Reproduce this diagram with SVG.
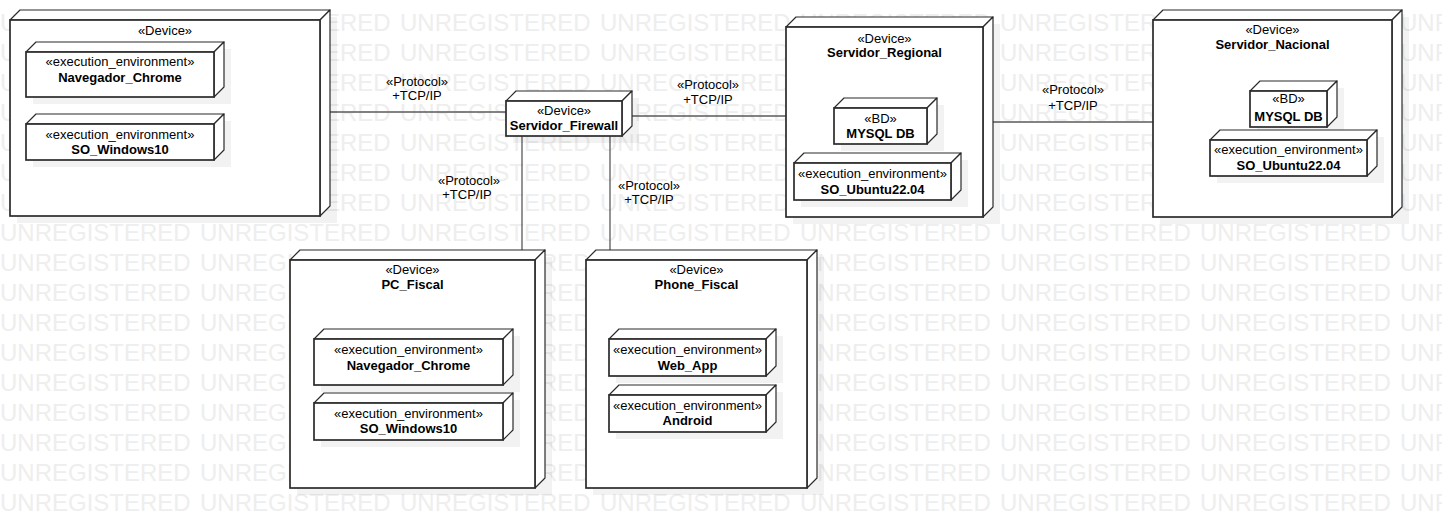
<svg xmlns="http://www.w3.org/2000/svg" width="1442" height="530" viewBox="0 0 1442 530">
<style>
.wm{font-family:"Liberation Sans",Arial,sans-serif;font-size:24px;fill:#eeeeee;word-spacing:2.65px}
.t{font-family:"Liberation Sans",Arial,sans-serif;font-size:13px;fill:#000;text-anchor:middle}
.b{font-weight:bold}
.front{fill:#fff;stroke:#2b2b2b;stroke-width:1.7}
.face{fill:#fff;stroke:#2b2b2b;stroke-width:1.2;stroke-linejoin:round}
.sh{fill:#000;opacity:0.05}
.cn{stroke:#5a5a5a;stroke-width:1.3;fill:none}
</style>
<defs>
<g id="wmrow"><text class="wm" x="0" y="0">UNREGISTERED UNREGISTERED UNREGISTERED UNREGISTERED UNREGISTERED UNREGISTERED UNREGISTERED UNREGISTERED</text></g>
</defs>
<rect width="1442" height="530" fill="#fff"/>
<g id="watermark">
<use href="#wmrow" y="30.7"/><use href="#wmrow" y="60.7"/><use href="#wmrow" y="90.7"/><use href="#wmrow" y="120.7"/>
<use href="#wmrow" y="150.7"/><use href="#wmrow" y="180.7"/><use href="#wmrow" y="210.7"/><use href="#wmrow" y="240.7"/>
<use href="#wmrow" y="270.7"/><use href="#wmrow" y="300.7"/><use href="#wmrow" y="330.7"/><use href="#wmrow" y="360.7"/>
<use href="#wmrow" y="390.7"/><use href="#wmrow" y="420.7"/><use href="#wmrow" y="450.7"/><use href="#wmrow" y="480.7"/>
<use href="#wmrow" y="510.7"/>
</g>

<g id="connectors">
<line class="cn" x1="330" y1="112" x2="506" y2="112"/>
<text class="t" x="417" y="86">«Protocol»</text><text class="t" x="417" y="99.5">+TCP/IP</text>
<line class="cn" x1="632" y1="116" x2="786" y2="116"/>
<text class="t" x="708" y="88.5">«Protocol»</text><text class="t" x="708" y="103.5">+TCP/IP</text>
<line class="cn" x1="522" y1="136" x2="522" y2="250"/>
<text class="t" x="469" y="185">«Protocol»</text><text class="t" x="467" y="198.5">+TCP/IP</text>
<line class="cn" x1="610" y1="136" x2="610" y2="250"/>
<text class="t" x="649" y="190">«Protocol»</text><text class="t" x="649" y="203.5">+TCP/IP</text>
<line class="cn" x1="993" y1="122" x2="1153" y2="122"/>
<text class="t" x="1073" y="94.3">«Protocol»</text><text class="t" x="1073" y="110">+TCP/IP</text>
</g>

<g id="node-pc-left">
<rect class="sh" x="17" y="17" width="320" height="206"/>
<polygon class="face" points="10,20 20,10 330,10 320,20"/>
<polygon class="face" points="320,20 330,10 330,206 320,216"/>
<rect class="front" x="10" y="20" width="310" height="196"/>
<text class="t" x="165" y="35">«Device»</text>
<g id="node-pc-left-chrome">
<rect class="sh" x="33" y="49" width="198" height="55"/>
<polygon class="face" points="26,52 36,42 224,42 214,52"/>
<polygon class="face" points="214,52 224,42 224,87 214,97"/>
<rect class="front" x="26" y="52" width="188" height="45"/>
<text class="t" x="120" y="66">«execution_environment»</text>
<text class="t b" x="120" y="82">Navegador_Chrome</text>
</g>
<g id="node-pc-left-windows">
<rect class="sh" x="33" y="121" width="198" height="46"/>
<polygon class="face" points="26,124 36,114 224,114 214,124"/>
<polygon class="face" points="214,124 224,114 224,150 214,160"/>
<rect class="front" x="26" y="124" width="188" height="36"/>
<text class="t" x="120" y="138.5">«execution_environment»</text>
<text class="t b" x="120" y="154">SO_Windows10</text>
</g>
</g>

<g id="node-firewall">
<rect class="sh" x="513" y="98" width="126" height="45"/>
<polygon class="face" points="506,101 516,91 632,91 622,101"/>
<polygon class="face" points="622,101 632,91 632,126 622,136"/>
<rect class="front" x="506" y="101" width="116" height="35"/>
<text class="t" x="564" y="115">«Device»</text>
<text class="t b" x="564" y="129.5">Servidor_Firewall</text>
</g>

<g id="node-regional">
<rect class="sh" x="793" y="24" width="207" height="200"/>
<polygon class="face" points="786,27 796,17 993,17 983,27"/>
<polygon class="face" points="983,27 993,17 993,207 983,217"/>
<rect class="front" x="786" y="27" width="197" height="190"/>
<text class="t" x="884.5" y="42.7">«Device»</text>
<text class="t b" x="884.5" y="57.3">Servidor_Regional</text>
<g id="node-regional-db">
<rect class="sh" x="841" y="105" width="103" height="46"/>
<polygon class="face" points="834,108 844,98 937,98 927,108"/>
<polygon class="face" points="927,108 937,98 937,134 927,144"/>
<rect class="front" x="834" y="108" width="93" height="36"/>
<text class="t" x="880.5" y="122.7">«BD»</text>
<text class="t b" x="880.5" y="137.7">MYSQL DB</text>
</g>
<g id="node-regional-os">
<rect class="sh" x="801" y="160" width="167" height="47"/>
<polygon class="face" points="794,163 804,153 961,153 951,163"/>
<polygon class="face" points="951,163 961,153 961,190 951,200"/>
<rect class="front" x="794" y="163" width="157" height="37"/>
<text class="t" x="872.5" y="177.7">«execution_environment»</text>
<text class="t b" x="872.5" y="194.3">SO_Ubuntu22.04</text>
</g>
</g>

<g id="node-nacional">
<rect class="sh" x="1160" y="17" width="249" height="207"/>
<polygon class="face" points="1153,20 1163,10 1402,10 1392,20"/>
<polygon class="face" points="1392,20 1402,10 1402,207 1392,217"/>
<rect class="front" x="1153" y="20" width="239" height="197"/>
<text class="t" x="1272.5" y="34.3">«Device»</text>
<text class="t b" x="1272.5" y="49.3">Servidor_Nacional</text>
<g id="node-nacional-db">
<rect class="sh" x="1257" y="88" width="87" height="46"/>
<polygon class="face" points="1250,91 1260,81 1337,81 1327,91"/>
<polygon class="face" points="1327,91 1337,81 1337,117 1327,127"/>
<rect class="front" x="1250" y="91" width="77" height="36"/>
<text class="t" x="1288.5" y="103.3">«BD»</text>
<text class="t b" x="1288.5" y="120.7">MYSQL DB</text>
</g>
<g id="node-nacional-os">
<rect class="sh" x="1217" y="137" width="167" height="46"/>
<polygon class="face" points="1210,140 1220,130 1377,130 1367,140"/>
<polygon class="face" points="1367,140 1377,130 1377,166 1367,176"/>
<rect class="front" x="1210" y="140" width="157" height="36"/>
<text class="t" x="1288.5" y="154.3">«execution_environment»</text>
<text class="t b" x="1288.5" y="170">SO_Ubuntu22.04</text>
</g>
</g>

<g id="node-pc-fiscal">
<rect class="sh" x="297" y="257" width="255" height="238"/>
<polygon class="face" points="290,260 300,250 545,250 535,260"/>
<polygon class="face" points="535,260 545,250 545,478 535,488"/>
<rect class="front" x="290" y="260" width="245" height="228"/>
<text class="t" x="412.5" y="274.3">«Device»</text>
<text class="t b" x="412.5" y="289.3">PC_Fiscal</text>
<g id="node-pc-fiscal-chrome">
<rect class="sh" x="321" y="336" width="199" height="56"/>
<polygon class="face" points="314,339 324,329 513,329 503,339"/>
<polygon class="face" points="503,339 513,329 513,375 503,385"/>
<rect class="front" x="314" y="339" width="189" height="46"/>
<text class="t" x="408.5" y="354">«execution_environment»</text>
<text class="t b" x="408.5" y="370">Navegador_Chrome</text>
</g>
<g id="node-pc-fiscal-windows">
<rect class="sh" x="321" y="400" width="199" height="47"/>
<polygon class="face" points="314,403 324,393 513,393 503,403"/>
<polygon class="face" points="503,403 513,393 513,430 503,440"/>
<rect class="front" x="314" y="403" width="189" height="37"/>
<text class="t" x="408.5" y="418.3">«execution_environment»</text>
<text class="t b" x="408.5" y="433.3">SO_Windows10</text>
</g>
</g>

<g id="node-phone-fiscal">
<rect class="sh" x="593" y="257" width="231" height="238"/>
<polygon class="face" points="586,260 596,250 817,250 807,260"/>
<polygon class="face" points="807,260 817,250 817,478 807,488"/>
<rect class="front" x="586" y="260" width="221" height="228"/>
<text class="t" x="696.5" y="274.3">«Device»</text>
<text class="t b" x="696.5" y="289.3">Phone_Fiscal</text>
<g id="node-phone-webapp">
<rect class="sh" x="616" y="336" width="167" height="47"/>
<polygon class="face" points="609,339 619,329 776,329 766,339"/>
<polygon class="face" points="766,339 776,329 776,366 766,376"/>
<rect class="front" x="609" y="339" width="157" height="37"/>
<text class="t" x="687.5" y="354">«execution_environment»</text>
<text class="t b" x="687.5" y="370">Web_App</text>
</g>
<g id="node-phone-android">
<rect class="sh" x="616" y="392" width="167" height="47"/>
<polygon class="face" points="609,395 619,385 776,385 766,395"/>
<polygon class="face" points="766,395 776,385 776,422 766,432"/>
<rect class="front" x="609" y="395" width="157" height="37"/>
<text class="t" x="687.5" y="410">«execution_environment»</text>
<text class="t b" x="687.5" y="425">Android</text>
</g>
</g>
</svg>
